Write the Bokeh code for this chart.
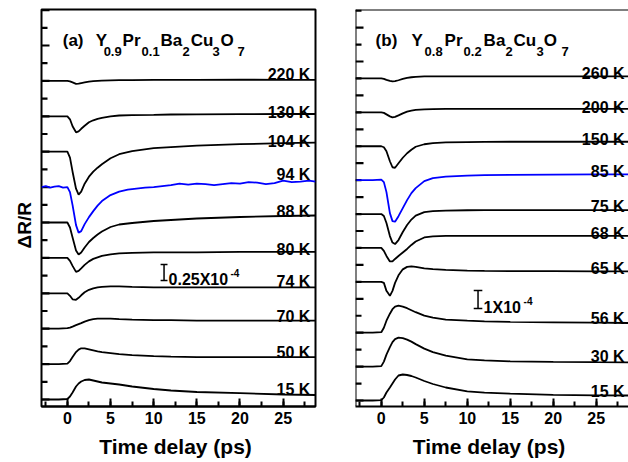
import numpy as np
from bokeh.plotting import figure
from bokeh.models import SingleIntervalTicker, Range1d, Span, Title
from bokeh.layouts import row
from bokeh.embed import file_html
from bokeh.resources import INLINE
from bokeh.core.properties import value

# ---------------- data ----------------
t = [-3, -1, 0, 0.3, 0.6, 1.0, 1.3, 1.6, 2.0, 2.5, 3.0, 3.5, 4.0, 5.0, 6.0, 7.5, 10, 12, 15, 20, 25, 28.75]
# the noisier 94 K trace is read on a denser grid
t94 = [-3, -2.5, -2, -1.5, -1, -0.5, 0, 0.3, 0.6, 1.0, 1.3, 1.6, 2.0, 2.5, 3.0, 3.5, 4.0,
       5, 6, 7, 8, 9, 10, 11, 12, 13, 14, 15, 16, 17, 18, 19, 20, 21, 22, 23, 24, 25, 26, 27, 28, 28.75]

# panel (a): Y0.9Pr0.1Ba2Cu3O7  (signal in arbitrary units, traces offset)
temps_a = ["15 K", "50 K", "70 K", "74 K", "80 K", "88 K", "94 K", "104 K", "130 K", "220 K"]
offset_a = [0, 35.4, 70.8, 106.2, 141.6, 177.0, 212.4, 247.8, 283.2, 318.6]
a15 = [0, 0, 0.5, 3, 7, 13, 16, 18, 19.5, 20, 19, 18, 17, 16, 15, 13, 10.5, 9, 7.5, 6.3, 5, 4.5]
a50 = [0, 0, 0.5, 3, 7, 12, 14.5, 15.8, 15.8, 14.8, 13.8, 12.8, 12, 11, 10, 9, 8, 7.5, 7, 7, 7, 7]
a70 = [0, 0, 0.5, 1, 2, 3.5, 4.5, 5.5, 7, 8.5, 9.5, 10, 10, 10, 9.5, 9, 8.5, 8.5, 8, 8, 8, 8]
a74 = [0, 0, 0, -2.5, -6, -6.5, -4.5, -2, 1, 3.5, 5, 6, 6.5, 7, 7, 6.5, 6, 6, 6, 6, 6, 6]
a80 = [0, 0, 0, -3, -8, -14, -13, -10.5, -7, -3.5, -1, 0.5, 2, 3.5, 4.5, 5, 5.5, 5.5, 5.5, 6, 6, 6]
a88 = [0, 0, 0, -5, -15, -28, -32, -30, -25, -19.5, -15.5, -12, -9, -4.5, -2, -0.5, 1.5, 2.5, 4, 5.5, 6.5, 7]
a94 = [0, 1, -0.5, 0.5, 1, -0.5, 0,
       -5, -18, -38, -45.5, -44, -37, -30, -24, -18.5, -14,
       -8, -4.5, -2.5, -1.5, -0.5, 0, 1, 2, 3.5, 2.5, 3.5, 3, 2, 3, 4, 3.5, 5, 4.5, 3, 4, 6.5, 5, 5.5, 6.5,
       5.5]
a104 = [0, 0, 0, -6, -20, -37, -43, -40, -32, -25, -20, -16, -12.5, -6.5, -2.5, 0.5, 3.5, 4.5, 6, 7.5, 8.5, 9]
a130 = [0, 0, 0, -3, -10, -16, -15, -12.5, -9.5, -6, -4, -2.5, -1.5, 0, 0.8, 1.2, 1.5, 1.8, 2, 2.2, 2.3, 2.3]
a220 = [0, 0, 0, -0.5, -1.5, -3, -2.8, -2.2, -1.5, -0.8, -0.3, 0, 0.3, 0.5, 0.7, 0.8, 1, 1, 1, 1.2, 1, 1]
series_a = [a15, a50, a70, a74, a80, a88, a94, a104, a130, a220]
times_a = [t, t, t, t, t, t, t94, t, t, t]
blue_a = "94 K"
scale_a = 16.0          # length of the 0.25x10^-4 bar in signal units

# panel (b): Y0.8Pr0.2Ba2Cu3O7
temps_b = ["15 K", "30 K", "56 K", "65 K", "68 K", "75 K", "85 K", "150 K", "200 K", "260 K"]
offset_b = [0, 33.9, 67.8, 118.65, 152.55, 186.45, 220.35, 254.25, 288.15, 322.05]
b15 = [0, 0, 0.3, 3, 8, 13, 17, 21, 25, 26, 25.5, 24.5, 23, 19.5, 16.5, 13, 9.2, 7.8, 6.8, 5.7, 5.2, 5]
b30 = [0, 0, 0.5, 5, 12, 19.5, 24.5, 27.5, 29, 28.5, 27, 25, 22.5, 18, 14.5, 11, 7.2, 6.2, 5.3, 4.8, 4.4, 4.3]
b56 = [0, 0, 0.5, 5, 12, 19, 23.5, 26, 27, 26, 24.5, 22.5, 20.5, 17, 15, 13, 12, 11.3, 10.8, 10.4, 10, 9.7]
b65 = [0, 0, 0, -1, -9, -14, -9, -1, 6.5, 12.5, 15, 15.5, 15, 13.5, 12.8, 12, 11.3, 11, 10.8, 10.7, 10.5, 10.5]
b68 = [0, 0, 0, -3, -8, -13.5, -13.5, -11, -8, -4.5, -1, 3, 6.5, 10.5, 11.5, 12, 12, 12, 12, 12, 12, 12]
b75 = [0, 0, 0, -2, -9, -22, -28.5, -30, -26, -18, -11, -5.5, -1.5, 2, 3, 3.5, 3.8, 4, 4, 4, 4, 4]
b85 = [0, 0, 0.5, -2, -12, -33, -41, -41.5, -36, -28, -20, -13, -8, -1, 2, 3.5, 4.5, 5, 5.3, 5.5, 5.7, 5.7]
b150 = [0, 0, 0, -1, -5, -15, -21, -21.5, -17, -11.5, -7, -3.5, -0.5, 2, 3.2, 3.8, 4.2, 4.3, 4.5, 4.5, 4.5, 4.5]
b200 = [0, 0, 0, -0.5, -2, -4, -5, -4.5, -3, -1, 0.8, 1.8, 2.5, 3, 3.3, 3.4, 3.5, 3.5, 3.5, 3.5, 3.5, 3.5]
b260 = [0, 0, 0, -0.5, -1.5, -2.5, -3, -2.7, -1.8, -0.5, 0.5, 1.2, 1.6, 2, 2, 2, 2, 2, 2, 2, 2, 2]
series_b = [b15, b30, b56, b65, b68, b75, b85, b150, b200, b260]
times_b = [t] * 10
blue_b = "85 K"
scale_b = 18.0          # length of the 1x10^-4 bar in signal units

x_ticks_interval = 5
X_START, X_END = -3, 28.75
FONT = value("Liberation Sans")

# text-label placement (layout constants, not data)
label_y_a = [10.5, 47.5, 83.5, 118.5, 150.5, 188.5, 225.5, 258.5, 287.5, 325.5]
label_y_b = [9.5, 44.5, 82.5, 132.5, 167.5, 194.5, 229.5, 261.5, 293.5, 327.5]


def make_panel(width, min_left, min_right, y_start, y_end, outline):
    p = figure(width=width, height=462, output_backend="svg", toolbar_location=None,
               x_range=Range1d(X_START, X_END), y_range=Range1d(y_start, y_end),
               min_border_left=min_left, min_border_right=min_right,
               min_border_top=9, min_border_bottom=56)
    p.background_fill_color = "white"
    p.border_fill_color = "white"
    p.xgrid.visible = False
    p.ygrid.visible = False
    p.yaxis.visible = False
    if outline:
        p.outline_line_color = "black"
        p.outline_line_width = 2
    else:
        p.outline_line_color = None
    xa = p.xaxis[0]
    xa.ticker = SingleIntervalTicker(interval=x_ticks_interval, num_minor_ticks=2)
    xa.axis_line_width = 2
    xa.major_tick_in = 8
    xa.major_tick_out = 0
    xa.minor_tick_in = 5
    xa.minor_tick_out = 0
    xa.major_tick_line_width = 2
    xa.minor_tick_line_width = 2
    xa.major_label_text_font = "Liberation Sans"
    xa.major_label_text_font_style = "bold"
    xa.major_label_text_font_size = "16px"
    xa.major_label_text_color = "black"
    xa.major_label_standoff = 5
    xa.axis_label = "Time delay  (ps)"
    xa.axis_label_text_font = "Liberation Sans"
    xa.axis_label_text_font_style = "bold"
    xa.axis_label_text_font_size = "21px"
    xa.axis_label_text_color = "black"
    xa.axis_label_standoff = 8
    return p


def draw_yticks(p, interval, y_end, px_per_unit):
    # inward ticks on the left edge: major every `interval`, one minor in between
    ticks = np.arange(0, y_end + 0.01, interval / 2.0)
    major = [float(v) for v in ticks[::2]]
    minor = [float(v) for v in ticks[1::2]]
    p.segment(x0=[X_START] * len(major), y0=major,
              x1=[X_START + 8.0 / px_per_unit] * len(major), y1=major,
              line_color="black", line_width=2.2, line_cap="butt")
    p.segment(x0=[X_START] * len(minor), y0=minor,
              x1=[X_START + 6.0 / px_per_unit] * len(minor), y1=minor,
              line_color="black", line_width=2.2, line_cap="butt")


def draw_traces(p, temps, offsets, series, times, blue, label_x, label_y):
    for name, off, s, tt in zip(temps, offsets, series, times):
        y = [off + v for v in s]
        col = "#0000ff" if name == blue else "black"
        p.line(tt, y, line_color=col, line_width=1.8)
    p.text(x=[label_x] * len(temps), y=label_y, text=temps, text_align="right",
           text_baseline="alphabetic", text_font=FONT, text_font_style="bold",
           text_font_size="16px", text_color="black")


def draw_title(p, main, sub, y_main, y_sub):
    p.text(x=[m[1] for m in main], y=[y_main] * len(main), text=[m[0] for m in main],
           text_font=FONT, text_font_style="bold", text_font_size="17px",
           text_baseline="alphabetic", text_align="left", text_color="black")
    p.text(x=[m[1] for m in sub], y=[y_sub] * len(sub), text=[m[0] for m in sub],
           text_font=FONT, text_font_style="bold", text_font_size="13px",
           text_baseline="alphabetic", text_align="left", text_color="black")


def draw_scalebar(p, xc, y0, length, half_cap, txt, tx, sup_x, sup_dy):
    p.segment(x0=[xc, xc - half_cap, xc - half_cap], y0=[y0, y0, y0 + length],
              x1=[xc, xc + half_cap, xc + half_cap], y1=[y0 + length, y0, y0 + length],
              line_color="black", line_width=1.5)
    p.text(x=[tx], y=[y0 + 1], text=[txt], text_font=FONT, text_font_style="bold",
           text_font_size="16px", text_baseline="alphabetic", text_align="left")
    p.text(x=[sup_x], y=[y0 + 1 + sup_dy], text=["-4"], text_font=FONT, text_font_style="bold",
           text_font_size="10px", text_baseline="alphabetic", text_align="left")


# ---------------- panel (a) ----------------
pa = make_panel(335, 41, 20, -7, 390, True)
draw_yticks(pa, offset_a[1], 390, 274 / (X_END - X_START))
draw_traces(pa, temps_a, offset_a, series_a, times_a, blue_a, 28.16, label_y_a)
draw_title(pa,
           [("(a)", -0.54), ("Y", 3.28), ("Pr", 6.4), ("Ba", 10.8), ("Cu", 14.3), ("O", 17.74)],
           [("0.9", 4.2), ("0.1", 8.6), ("2", 13.34), ("3", 16.82), ("7", 19.71)],
           359.5, 348)
draw_scalebar(pa, 11.2, 119, scale_a, 0.4, "0.25X10", 11.72, 18.9, 7)
pa.add_layout(Title(text="ΔR/R", align="left", offset=158, text_font="Liberation Sans",
                    text_font_style="bold", text_font_size="19px", text_color="black",
                    standoff=14), "left")

# ---------------- panel (b) ----------------
pb = make_panel(293, 20, 0, -6, 391, False)
pb.add_layout(Span(location=391, dimension="width", line_color="black", line_width=2))
pb.add_layout(Span(location=X_START, dimension="height", line_color="black", line_width=2))
draw_yticks(pb, offset_b[1], 391, 273 / (X_END - X_START))
draw_traces(pb, temps_b, offset_b, series_b, times_b, blue_b, 28.29, label_y_b)
draw_title(pb,
           [("(b)", -0.66), ("Y", 3.52), ("Pr", 7.36), ("Ba", 11.9), ("Cu", 15.38), ("O", 18.88)],
           [("0.8", 5.03), ("0.2", 9.57), ("2", 14.45), ("3", 18.06), ("7", 20.97)],
           360.5, 349)
draw_scalebar(pb, 11.25, 92, scale_b, 0.5, "1X10", 11.9, 16.55, 7)

layout = row(pa, pb)
open("out.html", "w").write(file_html(layout, INLINE))
